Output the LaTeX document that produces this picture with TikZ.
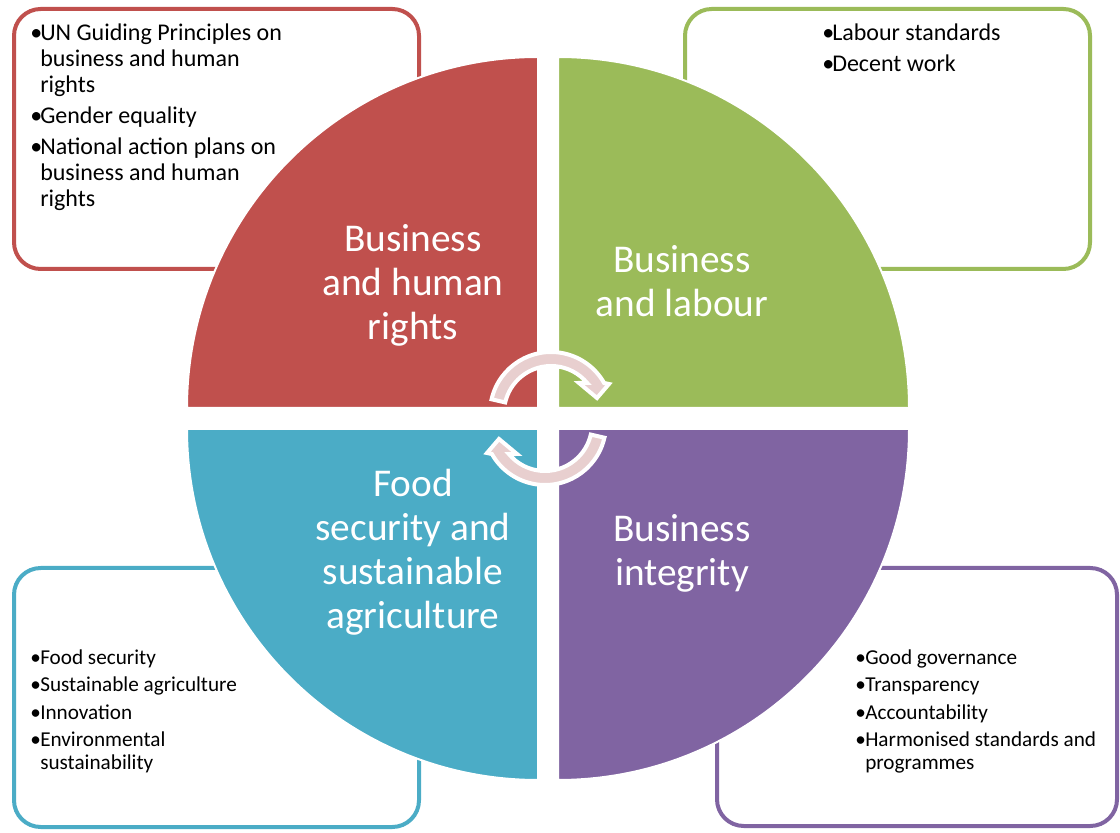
\documentclass[tikz,border=0pt]{standalone}
\usepackage{fontspec}
\setmainfont{Carlito}
\definecolor{rightsred}{HTML}{C0504D}
\definecolor{labourgreen}{HTML}{9BBB59}
\definecolor{foodblue}{HTML}{4BACC6}
\definecolor{integritypurple}{HTML}{8064A2}
\definecolor{cyclepink}{HTML}{E8CFCF}
\newlength{\itemgap}
\newcommand{\bitem}[1]{\hangindent=7.5pt\hangafter=1\noindent
  \makebox[7.5pt][l]{\textbullet}#1\par\vspace{\itemgap}}
\begin{document}
\begin{tikzpicture}[x=0.75pt, y=0.75pt,
    topicbox/.style={draw=#1, line width=3pt, fill=white, rounded corners=20pt},
    quarter/.style={fill=#1, draw=white, line width=1.5pt},
    quartertext/.style={text=white, anchor=base, inner sep=0pt,
        text width=240pt, align=flush center, font=\fontsize{29.5}{33}\selectfont},
    listtext/.style={anchor=base west, inner sep=0pt, text width=#1, align=flush left,
        font=\fontsize{18}{19.5}\selectfont\setlength{\itemgap}{3.75pt}},
    smalllist/.style={listtext=#1,
        font=\fontsize{15.9}{17.25}\selectfont\setlength{\itemgap}{3.4pt}},
    cyclearrow/.style={fill=cyclepink, draw=white, line width=3pt, line join=miter}]
    \useasboundingbox (0,0) rectangle (1120,832);
    % boxes behind the circle
    \draw[topicbox=rightsred] (14,563) rectangle (419,823);
    \draw[topicbox=labourgreen] (685,563) rectangle (1090,823);
    \draw[topicbox=foodblue] (14,5) rectangle (419,264);
    \draw[topicbox=integritypurple] (717,6) rectangle (1117,264);
    % the four quarters
    \path[quarter=rightsred]
        (538,424) -- (187,424) arc[start angle=180, end angle=90, radius=351] -- cycle;
    \path[quarter=labourgreen]
        (558,424) -- (558,775) arc[start angle=90, end angle=0, radius=351] -- cycle;
    \path[quarter=foodblue]
        (538,403) -- (187,403) arc[start angle=180, end angle=270, radius=351] -- cycle;
    \path[quarter=integritypurple]
        (558,403) -- (909,403) arc[start angle=0, end angle=-90, radius=351] -- cycle;
    % quarter labels
    \node[quartertext] (rights) at (413,580) {Business\\and human\\rights};
    \node[quartertext] (labour) at (682,559) {Business\\and labour};
    \node[quartertext] (food) at (413,335) {Food\\security and\\sustainable\\agriculture};
    \node[quartertext] (integrity) at (682,290) {Business\\integrity};
    % lists
    \node[listtext=290pt] (rightslist) at (30,791) {%
        \bitem{UN Guiding Principles on\newline business and human\newline rights}%
        \bitem{Gender equality}%
        \bitem{National action plans on\newline business and human\newline rights}};
    \node[listtext=190pt] (labourlist) at (822,791) {%
        \bitem{Labour standards}%
        \bitem{Decent work}};
    \node[smalllist=290pt] (foodlist) at (30,168) {%
        \bitem{Food security}%
        \bitem{Sustainable agriculture}%
        \bitem{Innovation}%
        \bitem{Environmental\newline sustainability}};
    \node[smalllist=190pt] (integritylist) at (855,168) {%
        \bitem{Good governance}%
        \bitem{Transparency}%
        \bitem{Accountability}%
        \bitem{Harmonised standards and\newline programmes}};
    % cycle arrows
    \begin{scope}[shift={(551,419)}]
    \path[cyclearrow]
        (167:61) arc[start angle=167, end angle=29.5, radius=61]
        -- (58,29) -- (46,15) -- (28,30)
        -- (39.7:47) arc[start angle=39.7, end angle=167, radius=47] -- cycle;
    \end{scope}
    \begin{scope}[shift={(545,408)}, rotate=180]
    \path[cyclearrow]
        (167:61) arc[start angle=167, end angle=29.5, radius=61]
        -- (58,29) -- (46,15) -- (28,30)
        -- (39.7:47) arc[start angle=39.7, end angle=167, radius=47] -- cycle;
    \end{scope}
\end{tikzpicture}
\end{document}
